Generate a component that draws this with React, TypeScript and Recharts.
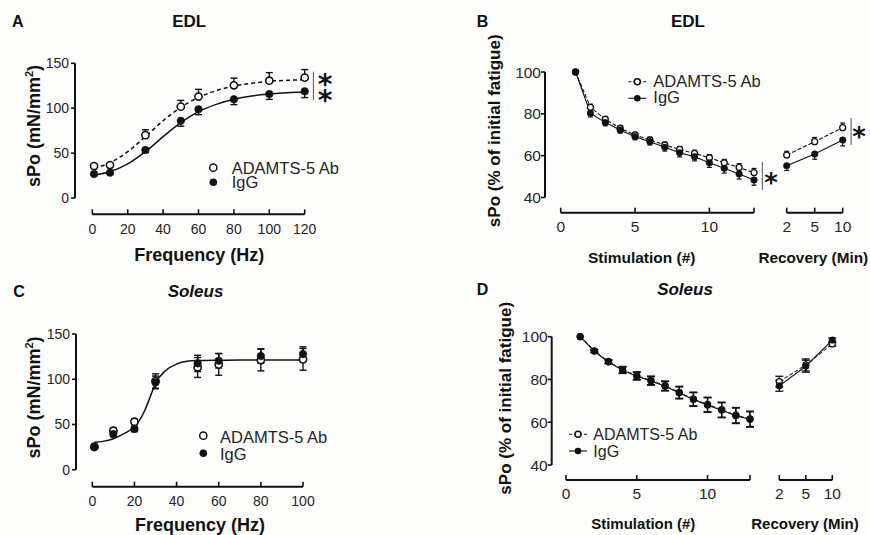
import React from "react";
import { ComposedChart, Line, Scatter, XAxis, YAxis, ErrorBar, ReferenceLine } from "recharts";

const W = 870;
const H = 535;
const BG = "#fdfdfb";
const INK = "#111111";
const TICK_INK = "#262626";
const FONT = '"Liberation Sans", Arial, Helvetica, sans-serif';
const STAR_FONT = '"DejaVu Sans", "Liberation Sans", sans-serif';

const seriesNames = ["ADAMTS-5 Ab", "IgG"];

// ---------- Panel A : EDL, force-frequency ----------
const freqA = [1, 10, 30, 50, 60, 80, 100, 120];
const adamtsA = [35.6, 36.7, 70.0, 101.7, 113.0, 125.5, 130.6, 134.0];
const adamtsAErr = [2, 2, 6, 7, 8, 8, 9, 9];
const iggA = [26.7, 28.2, 53.5, 86.0, 98.8, 110.0, 115.8, 118.8];
const iggAErr = [1.5, 1.5, 3, 6, 6, 6, 6, 7];
const fitFreqA = [1, 10, 20, 30, 40, 50, 60, 70, 80, 90, 100, 110, 120];
const fitAdamtsA = [33.2, 39.3, 51.6, 68.3, 86.0, 101.0, 112.0, 119.5, 124.7, 127.7, 130.0, 131.0, 131.7];
const fitIggA = [25.7, 29.3, 37.9, 51.6, 68.3, 83.9, 96.1, 104.3, 109.9, 113.6, 115.8, 117.3, 118.0];
const xTicksA = [0, 20, 40, 60, 80, 100, 120];
const yTicksA = [0, 50, 100, 150];
const sigA = { x: 124.9, from: 109, to: 140.6 };

// ---------- Panel B : EDL, fatigue ----------
const stim = [1, 2, 3, 4, 5, 6, 7, 8, 9, 10, 11, 12, 13];
const adamtsB = [100, 83.1, 77.4, 73.1, 69.9, 67.5, 65.1, 63.0, 61.1, 59.0, 56.6, 54.4, 51.9];
const adamtsBErr = [0, 1.5, 1.2, 1.2, 1.2, 1.3, 1.3, 1.4, 1.5, 1.5, 1.6, 1.8, 2.0];
const iggB = [100, 80.3, 75.8, 72.3, 69.1, 66.7, 64.0, 61.4, 59.5, 56.6, 54.0, 51.2, 48.4];
const iggBErr = [0, 1.8, 1.5, 1.5, 1.5, 1.6, 1.8, 2.0, 2.0, 2.2, 2.3, 2.4, 2.5];
const recMin = ["2", "5", "10"];
const adamtsBRec = [60.3, 66.7, 73.4];
const adamtsBRecErr = [1.8, 2.0, 2.2];
const iggBRec = [55.2, 60.8, 67.5];
const iggBRecErr = [2.3, 2.5, 2.8];
const stimTicks = [0, 5, 10, 13];
const stimTickLabels = ["0", "5", "10", ""];
const yTicksB = [40, 60, 80, 100];
const sigBStim = { x: 13.56, from: 43.6, to: 57.1 };
const sigBRec = { x: 2.3, from: 65.1, to: 78 };

// ---------- Panel C : Soleus, force-frequency ----------
const freqC = [1, 10, 20, 30, 50, 60, 80, 100];
const adamtsC = [25.5, 43.1, 53.0, 98.0, 113.0, 116.4, 121.2, 122.0];
const adamtsCErr = [1.5, 3, 3, 8, 11, 12, 12, 12];
const iggC = [24.7, 39.4, 45.0, 96.5, 117.5, 120.4, 125.6, 127.8];
const iggCErr = [1.5, 3, 3, 7, 9, 8, 8, 8];
const fitFreqC = [1, 5, 10, 15, 20, 22.5, 25, 27.5, 30, 35, 40, 45, 50, 60, 70, 80, 90, 100];
const fitC = [30.3, 31.3, 34.2, 39.8, 47.5, 55.0, 66.0, 80.7, 95.5, 110.0, 116.8, 119.8, 120.6, 121.0, 121.2, 121.2, 121.2, 121.2];
const xTicksC = [0, 20, 40, 60, 80, 100];
const yTicksC = [0, 50, 100, 150];

// ---------- Panel D : Soleus, fatigue ----------
const adamtsD = [100, 93.4, 88.4, 84.6, 81.8, 79.6, 77.1, 74.0, 70.9, 68.3, 65.9, 63.3, 61.6];
const iggD = [100, 93.2, 88.2, 84.3, 81.5, 79.3, 76.8, 73.7, 70.6, 68.0, 65.6, 63.0, 61.3];
const errD = [0, 0.6, 0.8, 1.5, 1.8, 2.0, 2.2, 2.8, 3.2, 3.4, 3.5, 3.6, 3.6];
const adamtsDRec = [79.0, 86.8, 96.6];
const iggDRec = [77.0, 86.2, 98.4];
const errDRec = [2.5, 2.8, 1.0];
const yTicksD = [40, 60, 80, 100];

// ---------- geometry helpers ----------
type Geo = { p0: number; v0: number; p1: number; v1: number };
type Frame = { left: number; right: number; top: number; bottom: number };
const valAt = (g: Geo, p: number) => g.v0 + ((p - g.p0) * (g.v1 - g.v0)) / (g.p1 - g.p0);
const XAH = 40;
const YAW = 60;
const marginFor = (f: Frame, withY: boolean) => ({
  top: f.top,
  bottom: H - f.bottom - XAH,
  left: withY ? f.left - YAW : f.left,
  right: W - f.right,
});
const domains = (f: Frame, xg: Geo, yg: Geo) => ({
  x: [valAt(xg, f.left), valAt(xg, f.right)],
  y: [valAt(yg, f.bottom), valAt(yg, f.top)],
});

const fA: Frame = { left: 75, right: 304.7, top: 63.3, bottom: 214.3 };
const dA = domains(fA, { p0: 92.3, v0: 0, p1: 304.7, v1: 120 }, { p0: 198, v0: 0, p1: 63.3, v1: 150 });
const fB: Frame = { left: 545, right: 754, top: 72, bottom: 212.7 };
const ygB: Geo = { p0: 197.5, v0: 40, p1: 72, v1: 100 };
const dB = domains(fB, { p0: 560.7, v0: 0, p1: 754, v1: 13 }, ygB);
const fBr: Frame = { left: 786.7, right: 842.7, top: 72, bottom: 212.7 };
const dBr = domains(fBr, { p0: 786.7, v0: 0, p1: 842.7, v1: 2 }, ygB);
const fC: Frame = { left: 76, right: 303, top: 334, bottom: 486.7 };
const dC = domains(fC, { p0: 92.3, v0: 0, p1: 303, v1: 100 }, { p0: 469.7, v0: 0, p1: 334, v1: 150 });
const fD: Frame = { left: 551.7, right: 750, top: 336.7, bottom: 480 };
const ygD: Geo = { p0: 465, v0: 40, p1: 336.7, v1: 100 };
const dD = domains(fD, { p0: 566, v0: 0, p1: 750, v1: 13 }, ygD);
const fDr: Frame = { left: 779.3, right: 832.3, top: 336.7, bottom: 480 };
const dDr = domains(fDr, { p0: 779.3, v0: 0, p1: 832.3, v1: 2 }, ygD);

// ---------- data tables ----------
const up = (e: number) => [0, e];
const down = (e: number) => [e, 0];
const ptsA_o = freqA.map((x, i) => ({ x, y: adamtsA[i], e: up(adamtsAErr[i]) }));
const ptsA_i = freqA.map((x, i) => ({ x, y: iggA[i], e: down(iggAErr[i]) }));
const fitA_o = fitFreqA.map((x, i) => ({ x, y: fitAdamtsA[i] }));
const fitA_i = fitFreqA.map((x, i) => ({ x, y: fitIggA[i] }));

const ptsB = stim.map((x, i) => ({ x, o: adamtsB[i], eo: up(adamtsBErr[i]), g: iggB[i], eg: down(iggBErr[i]) }));
const ptsBr = recMin.map((_, i) => ({ x: i, o: adamtsBRec[i], eo: up(adamtsBRecErr[i]), g: iggBRec[i], eg: down(iggBRecErr[i]) }));

const ptsC_o = freqC.map((x, i) => ({ x, y: adamtsC[i], e: adamtsCErr[i] }));
const ptsC_i = freqC.map((x, i) => ({ x, y: iggC[i], e: iggCErr[i] }));
const fitCData = fitFreqC.map((x, i) => ({ x, y: fitC[i] }));

const ptsD = stim.map((x, i) => ({ x, o: adamtsD[i], eo: errD[i], g: iggD[i], eg: errD[i] }));
const ptsDr = recMin.map((_, i) => ({ x: i, o: adamtsDRec[i], eo: errDRec[i], g: iggDRec[i], eg: errDRec[i] }));

// ---------- marks ----------
const openShape = (r: number, sw: number) => (p: any) =>
  p.cx == null ? <g /> : <circle cx={p.cx} cy={p.cy} r={r} fill={BG} stroke={INK} strokeWidth={sw} />;
const fillShape = (r: number) => (p: any) =>
  p.cx == null ? <g /> : <circle cx={p.cx} cy={p.cy} r={r} fill={INK} stroke={INK} strokeWidth={0.5} />;
const openDot = (r: number, sw: number) => (p: any) =>
  <circle key={`o-${p.index}`} cx={p.cx} cy={p.cy} r={r} fill={BG} stroke={INK} strokeWidth={sw} />;
const fillDot = (r: number) => (p: any) =>
  <circle key={`f-${p.index}`} cx={p.cx} cy={p.cy} r={r} fill={INK} stroke={INK} strokeWidth={0.5} />;

const xAxisEl = (domain: number[], ticks: number[], fs: number, gap: number, fmt?: (v: number) => string) => (
  <XAxis
    type="number"
    dataKey="x"
    domain={domain}
    ticks={ticks}
    interval={0}
    height={XAH}
    axisLine={false}
    tickLine={{ stroke: INK, strokeWidth: 1.6 }}
    tickSize={-5}
    tickMargin={gap}
    tick={{ fill: TICK_INK, fontSize: fs, fontFamily: FONT }}
    tickFormatter={fmt}
  />
);
const yAxisEl = (domain: number[], ticks: number[], fs: number, gap: number) => (
  <YAxis
    type="number"
    domain={domain}
    ticks={ticks}
    interval={0}
    width={YAW}
    axisLine={false}
    tickLine={{ stroke: INK, strokeWidth: 1.6 }}
    tickSize={4}
    tickMargin={gap}
    tick={{ fill: TICK_INK, fontSize: fs, fontFamily: FONT }}
  />
);
const xLine = (x0: number, x1: number, y: number) => (
  <ReferenceLine segment={[{ x: x0, y }, { x: x1, y }]} stroke={INK} strokeWidth={2} ifOverflow="visible" />
);
const yLine = (x: number, y0: number, y1: number) => (
  <ReferenceLine segment={[{ x, y: y0 }, { x, y: y1 }]} stroke={INK} strokeWidth={2} ifOverflow="visible" />
);
const sigLine = (s: { x: number; from: number; to: number }) => (
  <ReferenceLine segment={[{ x: s.x, y: s.from }, { x: s.x, y: s.to }]} stroke="#555" strokeWidth={1} ifOverflow="visible" />
);

const Abs = ({ children }: { children: React.ReactNode }) => (
  <div style={{ position: "absolute", left: 0, top: 0 }}>{children}</div>
);

const ChartA = () => (
  <ComposedChart width={W} height={H} margin={marginFor(fA, true)}>
    {xAxisEl(dA.x, xTicksA, 14, 15)}
    {yAxisEl(dA.y, yTicksA, 14, 2)}
    {xLine(0, 120, dA.y[0])}
    {yLine(dA.x[0], 0, 150)}
    {sigLine(sigA)}
    <Line data={fitA_o} dataKey="y" type="monotone" stroke={INK} strokeWidth={1.5} strokeDasharray="4 3" dot={false} isAnimationActive={false} name={seriesNames[0] + " fit"} />
    <Line data={fitA_i} dataKey="y" type="monotone" stroke={INK} strokeWidth={1.5} dot={false} isAnimationActive={false} name={seriesNames[1] + " fit"} />
    <Scatter data={ptsA_o} dataKey="y" shape={openShape(3.6, 1.6)} isAnimationActive={false} name={seriesNames[0]}>
      <ErrorBar dataKey="e" direction="y" width={3.5} stroke={INK} strokeWidth={1.4} />
    </Scatter>
    <Scatter data={ptsA_i} dataKey="y" shape={fillShape(3.8)} isAnimationActive={false} name={seriesNames[1]}>
      <ErrorBar dataKey="e" direction="y" width={3.5} stroke={INK} strokeWidth={1.4} />
    </Scatter>
  </ComposedChart>
);

const ChartB = () => (
  <ComposedChart width={W} height={H} margin={marginFor(fB, true)}>
    {xAxisEl(dB.x, stimTicks, 15.5, 13.5, (v: number) => stimTickLabels[stimTicks.indexOf(v)] ?? "")}
    {yAxisEl(dB.y, yTicksB, 15.5, 0)}
    {xLine(0, 13, dB.y[0])}
    {yLine(dB.x[0], 40, 100)}
    {sigLine(sigBStim)}
    <Line data={ptsB} dataKey="o" type="linear" stroke={INK} strokeWidth={1.1} strokeDasharray="4 2" dot={openDot(3, 1.3)} isAnimationActive={false} name={seriesNames[0]}>
      <ErrorBar dataKey="eo" direction="y" width={2.5} stroke={INK} strokeWidth={1.2} />
    </Line>
    <Line data={ptsB} dataKey="g" type="linear" stroke={INK} strokeWidth={1.1} dot={fillDot(3.3)} isAnimationActive={false} name={seriesNames[1]}>
      <ErrorBar dataKey="eg" direction="y" width={2.5} stroke={INK} strokeWidth={1.2} />
    </Line>
  </ComposedChart>
);

const ChartBr = () => (
  <ComposedChart width={W} height={H} margin={marginFor(fBr, false)}>
    {xAxisEl(dBr.x, [0, 1, 2], 15.5, 13.5, (v: number) => recMin[v] ?? "")}
    <YAxis type="number" domain={dBr.y} hide />
    {xLine(0, 2, dBr.y[0])}
    {sigLine(sigBRec)}
    <Line data={ptsBr} dataKey="o" type="linear" stroke={INK} strokeWidth={1.1} strokeDasharray="4 2" dot={openDot(3, 1.3)} isAnimationActive={false} name={seriesNames[0]}>
      <ErrorBar dataKey="eo" direction="y" width={2.5} stroke={INK} strokeWidth={1.2} />
    </Line>
    <Line data={ptsBr} dataKey="g" type="linear" stroke={INK} strokeWidth={1.1} dot={fillDot(3.3)} isAnimationActive={false} name={seriesNames[1]}>
      <ErrorBar dataKey="eg" direction="y" width={2.5} stroke={INK} strokeWidth={1.2} />
    </Line>
  </ComposedChart>
);

const ChartC = () => (
  <ComposedChart width={W} height={H} margin={marginFor(fC, true)}>
    {xAxisEl(dC.x, xTicksC, 14, 14.5)}
    {yAxisEl(dC.y, yTicksC, 14, 2)}
    {xLine(0, 100, dC.y[0])}
    {yLine(dC.x[0], 0, 150)}
    <Line data={fitCData} dataKey="y" type="monotone" stroke={INK} strokeWidth={1.5} dot={false} isAnimationActive={false} name="fit" />
    <Scatter data={ptsC_o} dataKey="y" shape={openShape(3.6, 1.6)} isAnimationActive={false} name={seriesNames[0]}>
      <ErrorBar dataKey="e" direction="y" width={3.5} stroke={INK} strokeWidth={1.4} />
    </Scatter>
    <Scatter data={ptsC_i} dataKey="y" shape={fillShape(3.8)} isAnimationActive={false} name={seriesNames[1]}>
      <ErrorBar dataKey="e" direction="y" width={3.5} stroke={INK} strokeWidth={1.4} />
    </Scatter>
  </ComposedChart>
);

const ChartD = () => (
  <ComposedChart width={W} height={H} margin={marginFor(fD, true)}>
    {xAxisEl(dD.x, stimTicks, 15.5, 12.7, (v: number) => stimTickLabels[stimTicks.indexOf(v)] ?? "")}
    {yAxisEl(dD.y, yTicksD, 15.5, 0)}
    {xLine(0, 13, dD.y[0])}
    {yLine(dD.x[0], 40, 100)}
    <Line data={ptsD} dataKey="o" type="linear" stroke="#333" strokeWidth={1.1} strokeDasharray="4 2" dot={openDot(3, 1.3)} isAnimationActive={false} name={seriesNames[0]}>
      <ErrorBar dataKey="eo" direction="y" width={4} stroke={INK} strokeWidth={1.3} />
    </Line>
    <Line data={ptsD} dataKey="g" type="linear" stroke={INK} strokeWidth={1.1} dot={fillDot(3.3)} isAnimationActive={false} name={seriesNames[1]}>
      <ErrorBar dataKey="eg" direction="y" width={4} stroke={INK} strokeWidth={1.3} />
    </Line>
  </ComposedChart>
);

const ChartDr = () => (
  <ComposedChart width={W} height={H} margin={marginFor(fDr, false)}>
    {xAxisEl(dDr.x, [0, 1, 2], 15.5, 12.7, (v: number) => recMin[v] ?? "")}
    <YAxis type="number" domain={dDr.y} hide />
    {xLine(0, 2, dDr.y[0])}
    <Line data={ptsDr} dataKey="o" type="linear" stroke="#333" strokeWidth={1.1} strokeDasharray="4 2" dot={openDot(3, 1.3)} isAnimationActive={false} name={seriesNames[0]}>
      <ErrorBar dataKey="eo" direction="y" width={4} stroke={INK} strokeWidth={1.3} />
    </Line>
    <Line data={ptsDr} dataKey="g" type="linear" stroke={INK} strokeWidth={1.1} dot={fillDot(3.3)} isAnimationActive={false} name={seriesNames[1]}>
      <ErrorBar dataKey="eg" direction="y" width={4} stroke={INK} strokeWidth={1.3} />
    </Line>
  </ComposedChart>
);

const Star = ({ cx, cy, fs }: { cx: number; cy: number; fs: number }) => (
  <text x={cx} y={cy + fs * 0.56} textAnchor="middle" fontFamily={STAR_FONT} fontWeight="bold" fontSize={fs} fill={INK}>*</text>
);

const LegendMarkers = ({ x, y0, y1, tx, b0, b1, lined, fs }: { x: number; y0: number; y1: number; tx: number; b0: number; b1: number; lined: boolean; fs: number }) => (
  <g>
    {lined && <line x1={x - 9} x2={x + 9} y1={y0} y2={y0} stroke={INK} strokeWidth={1.1} strokeDasharray="3 2" />}
    {lined && <line x1={x - 9} x2={x + 9} y1={y1} y2={y1} stroke={INK} strokeWidth={1.1} />}
    <circle cx={x} cy={y0} r={lined ? 3 : 3.6} fill={BG} stroke={INK} strokeWidth={1.5} />
    <circle cx={x} cy={y1} r={lined ? 3.3 : 3.8} fill={INK} />
    <text x={tx} y={b0} fontSize={fs} fill={TICK_INK}>{seriesNames[0]}</text>
    <text x={tx} y={b1} fontSize={fs} fill={TICK_INK}>{seriesNames[1]}</text>
  </g>
);

const Overlay = () => (
  <svg width={W} height={H} style={{ position: "absolute", left: 0, top: 0 }}>
    <g fontFamily={FONT} fill={INK}>
      <text x={12} y={26.7} fontSize={16} fontWeight="bold">A</text>
      <text x={476.7} y={26.7} fontSize={16} fontWeight="bold">B</text>
      <text x={13.3} y={296.7} fontSize={16} fontWeight="bold">C</text>
      <text x={476.7} y={295} fontSize={16} fontWeight="bold">D</text>

      <text x={189.2} y={26.7} fontSize={17} fontWeight="bold" textAnchor="middle">EDL</text>
      <text x={688} y={26.7} fontSize={17} fontWeight="bold" textAnchor="middle">EDL</text>
      <text x={195.5} y={296.7} fontSize={17} fontWeight="bold" fontStyle="italic" textAnchor="middle">Soleus</text>
      <text x={685} y={295} fontSize={17} fontWeight="bold" fontStyle="italic" textAnchor="middle">Soleus</text>

      <text transform="translate(40,126) rotate(-90)" textAnchor="middle" fontSize={18} fontWeight="bold">
        sPo (mN/mm<tspan dy={-7} fontSize={11}>2</tspan><tspan dy={7}>)</tspan>
      </text>
      <text transform="translate(40,397.5) rotate(-90)" textAnchor="middle" fontSize={18} fontWeight="bold">
        sPo (mN/mm<tspan dy={-7} fontSize={11}>2</tspan><tspan dy={7}>)</tspan>
      </text>
      <text transform="translate(499.5,130.8) rotate(-90)" textAnchor="middle" fontSize={17} fontWeight="bold">sPo (% of initial fatigue)</text>
      <text transform="translate(510.5,398.3) rotate(-90)" textAnchor="middle" fontSize={17} fontWeight="bold">sPo (% of initial fatigue)</text>

      <text x={199.3} y={260.7} fontSize={18} fontWeight="bold" textAnchor="middle">Frequency (Hz)</text>
      <text x={200} y={531} fontSize={18} fontWeight="bold" textAnchor="middle">Frequency (Hz)</text>
      <text x={641.7} y={263} fontSize={15.5} fontWeight="bold" textAnchor="middle">Stimulation (#)</text>
      <text x={813.3} y={263} fontSize={15.3} fontWeight="bold" textAnchor="middle">Recovery (Min)</text>
      <text x={643.3} y={529} fontSize={15} fontWeight="bold" textAnchor="middle">Stimulation (#)</text>
      <text x={805} y={529} fontSize={15} fontWeight="bold" textAnchor="middle">Recovery (Min)</text>

      <LegendMarkers x={213.3} y0={167.7} y1={182.3} tx={231.7} b0={174} b1={188.2} lined={false} fs={16.5} />
      <LegendMarkers x={203.3} y0={435.7} y1={453.3} tx={220} b0={442.7} b1={460} lined={false} fs={16.5} />
      <LegendMarkers x={637.3} y0={81.7} y1={98.3} tx={653.3} b0={87.3} b1={103.3} lined={true} fs={16.5} />
      <LegendMarkers x={578} y0={434.3} y1={451} tx={593.3} b0={440} b1={456.7} lined={true} fs={16} />

      <Star cx={325} cy={78.3} fs={28} />
      <Star cx={325} cy={94} fs={28} />
      <Star cx={771} cy={177.5} fs={26} />
      <Star cx={859} cy={131.7} fs={26} />
    </g>
  </svg>
);

export default function App() {
  return (
    <div style={{ position: "absolute", left: 0, top: 0, width: W, height: H, background: BG, overflow: "hidden", fontFamily: FONT }}>
      <Abs><ChartA /></Abs>
      <Abs><ChartB /></Abs>
      <Abs><ChartBr /></Abs>
      <Abs><ChartC /></Abs>
      <Abs><ChartD /></Abs>
      <Abs><ChartDr /></Abs>
      <Overlay />
    </div>
  );
}
